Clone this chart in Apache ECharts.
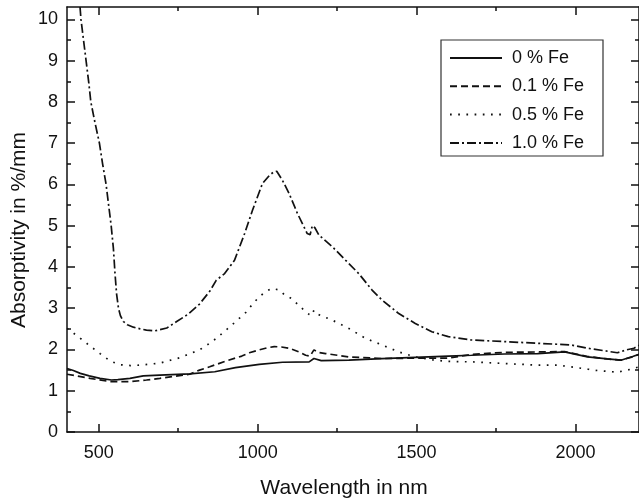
<!DOCTYPE html>
<html>
<head>
<meta charset="utf-8">
<script src="https://cdn.jsdelivr.net/npm/echarts@6/dist/echarts.min.js"></script>
<style>
html,body{margin:0;padding:0;background:#fff;}
#chart{width:639px;height:503px;}
</style>
</head>
<body>
<div id="chart"></div>
<script>
// ---- data ----
const seriesNames = ['0 % Fe', '0.1 % Fe', '0.5 % Fe', '1.0 % Fe'];

const wl_fe0  = [400,420,442,470,504,540,560,598,640,692,786,865,930,1005,1078,1162,1177,1200,1287,1391,1496,1600,1673,1777,1881,1966,2038,2100,2143,2180,2200];
const val_fe0 = [1.54,1.49,1.42,1.36,1.30,1.26,1.27,1.30,1.36,1.38,1.41,1.46,1.56,1.64,1.69,1.70,1.78,1.73,1.74,1.78,1.81,1.84,1.86,1.89,1.90,1.94,1.82,1.77,1.74,1.83,1.88];

const wl_fe01  = [400,430,473,536,598,650,692,786,817,849,900,950,974,1005,1030,1052,1075,1099,1130,1151,1165,1177,1190,1214,1287,1391,1496,1600,1673,1777,1881,1966,2038,2100,2143,2180,2200];
const val_fe01 = [1.40,1.36,1.30,1.22,1.22,1.26,1.30,1.40,1.50,1.58,1.72,1.84,1.92,1.99,2.04,2.07,2.06,2.03,1.94,1.86,1.84,1.99,1.93,1.90,1.82,1.78,1.79,1.79,1.88,1.93,1.94,1.95,1.83,1.77,1.74,1.82,1.88];

const wl_fe05  = [400,420,442,470,504,536,567,600,630,692,755,817,849,870,920,963,984,1005,1030,1045,1068,1085,1110,1130,1162,1170,1177,1190,1235,1287,1339,1391,1444,1496,1548,1600,1673,1777,1881,1945,1986,2040,2069,2132,2174,2200];
const val_fe05 = [2.51,2.40,2.27,2.10,1.90,1.72,1.63,1.61,1.62,1.67,1.80,1.99,2.15,2.27,2.60,2.90,3.10,3.28,3.42,3.48,3.44,3.32,3.22,3.06,2.85,2.82,2.95,2.85,2.71,2.51,2.27,2.11,1.94,1.82,1.75,1.71,1.70,1.66,1.62,1.62,1.58,1.52,1.49,1.45,1.52,1.58];

const wl_fe10  = [441,444,452,460,468,475,488,502,512,523,531,539,546,551,556,562,568,577,590,609,630,650,676,714,744,780,817,850,870,896,927,959,984,1015,1037,1050,1060,1078,1099,1125,1156,1165,1172,1180,1193,1235,1277,1318,1360,1391,1444,1496,1548,1600,1673,1777,1881,1986,2038,2090,2132,2160,2184,2200];
const val_fe10 = [10.30,10.00,9.50,9.00,8.50,8.00,7.50,7.00,6.50,6.00,5.50,5.00,4.45,3.85,3.35,3.00,2.82,2.68,2.60,2.54,2.50,2.47,2.45,2.52,2.67,2.85,3.10,3.42,3.68,3.84,4.16,4.81,5.38,6.02,6.22,6.30,6.32,6.10,5.78,5.30,4.81,4.78,5.00,4.95,4.77,4.49,4.16,3.84,3.44,3.20,2.87,2.63,2.43,2.31,2.23,2.19,2.15,2.11,2.03,1.97,1.92,1.99,2.03,2.10];

const xMajorTicks = [500, 1000, 1500, 2000];
const xMinorTicks = [750, 1250, 1750];
const yMajorTicks = [0,1,2,3,4,5,6,7,8,9,10];
const yMinorTicks = [0.5,1.5,2.5,3.5,4.5,5.5,6.5,7.5,8.5,9.5];

const xTitle = 'Wavelength in nm';
const yTitle = 'Absorptivity in %/mm';

// ---- chart ----
const FONT = '"Liberation Sans", Arial, sans-serif';
const INK = '#111';
const X_MIN = 400, X_MAX = 2200, Y_MIN = 0, Y_MAX = 10.3;

function pairs(xs, ys){ return xs.map((x,i)=>[x, ys[i]]); }
const plain = v => String(v);

function xAxisDef(pos, ticks, len, showLine, showLabels){
  return {
    type:'value', position:pos, min:X_MIN, max:X_MAX,
    axisLine:{show:showLine, onZero:false, lineStyle:{color:INK, width:1.5}},
    axisTick:{show:true, inside:true, length:len, customValues:ticks, lineStyle:{color:INK, width:1.5}},
    axisLabel:{show:showLabels, customValues:ticks, formatter:plain, margin:12, fontSize:18, fontFamily:FONT, color:INK},
    splitLine:{show:false}
  };
}
function yAxisDef(pos, ticks, len, showLine, showLabels){
  return {
    type:'value', position:pos, min:Y_MIN, max:Y_MAX,
    axisLine:{show:showLine, onZero:false, lineStyle:{color:INK, width:1.5}},
    axisTick:{show:true, inside:true, length:len, customValues:ticks, lineStyle:{color:INK, width:1.5}},
    axisLabel:{show:showLabels, customValues:ticks, formatter:plain, margin:9, fontSize:18, fontFamily:FONT, color:INK},
    splitLine:{show:false}
  };
}

const lineW = 1.7;
const styles = [
  {type:'solid'},
  {type:[7,4]},
  {type:[1.7,6.5]},
  {type:[9,3,2,3]}
];
const allData = [pairs(wl_fe0,val_fe0), pairs(wl_fe01,val_fe01), pairs(wl_fe05,val_fe05), pairs(wl_fe10,val_fe10)];

const chart = echarts.init(document.getElementById('chart'), null, {renderer:'canvas'});
chart.setOption({
  animation:false,
  backgroundColor:'#fff',
  grid:{left:67, top:7, right:-3, bottom:71, containLabel:false},
  xAxis:[
    xAxisDef('bottom', xMajorTicks, 8, true, true),
    xAxisDef('bottom', xMinorTicks, 4, false, false),
    xAxisDef('top', xMajorTicks, 8, true, false),
    xAxisDef('top', xMinorTicks, 4, false, false)
  ],
  yAxis:[
    yAxisDef('left', yMajorTicks, 8, true, true),
    yAxisDef('left', yMinorTicks, 4, false, false),
    yAxisDef('right', yMajorTicks, 8, true, false),
    yAxisDef('right', yMinorTicks, 4, false, false)
  ],
  legend:{
    orient:'vertical', left:449, top:49, padding:0,
    itemWidth:52, itemHeight:18, itemGap:10.3,
    data:seriesNames,
    itemStyle:{opacity:0, borderWidth:0, color:'rgba(0,0,0,0)'},
    textStyle:{fontSize:18, fontFamily:FONT, color:INK, padding:[0,0,0,5]}
  },
  graphic:[
    {type:'rect', shape:{x:441, y:40, width:162, height:116}, style:{fill:'none', stroke:'#333', lineWidth:1.2}, z:100},
    {type:'text', x:344, y:488, style:{text:xTitle, font:'21px '+FONT, fill:INK, textAlign:'center', textVerticalAlign:'middle'}},
    {type:'text', x:19.5, y:230, rotation:Math.PI/2, style:{text:yTitle, font:'21px '+FONT, fill:INK, textAlign:'center', textVerticalAlign:'middle'}}
  ],
  series: seriesNames.map((n,i)=>({
    name:n, type:'line', xAxisIndex:0, yAxisIndex:0,
    data:allData[i], symbol:'none', showSymbol:false, smooth:false,
    clip:true,
    lineStyle:{color:INK, width:lineW, type:styles[i].type},
    itemStyle:{color:INK}
  }))
});
</script>
</body>
</html>
